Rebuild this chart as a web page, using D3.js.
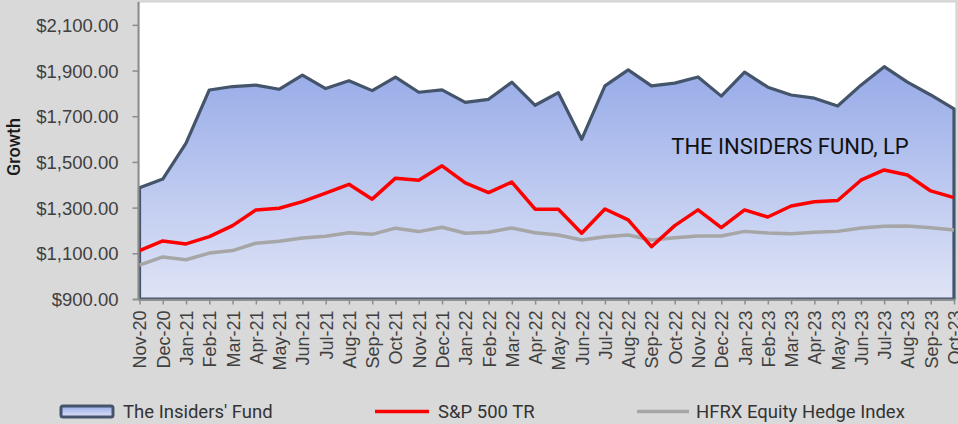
<!DOCTYPE html>
<html>
<head>
<meta charset="utf-8">
<script src="https://cdn.jsdelivr.net/npm/d3@7"></script>
<style>
  html, body { margin: 0; padding: 0; background: #d9d9d9; }
  svg { display: block; font-family: Roboto, "DejaVu Sans", sans-serif; }
</style>
</head>
<body>
<svg id="chart" width="958" height="424"></svg>
<script>
var months = ["Nov-20","Dec-20","Jan-21","Feb-21","Mar-21","Apr-21","May-21","Jun-21","Jul-21","Aug-21","Sep-21","Oct-21",
              "Nov-21","Dec-21","Jan-22","Feb-22","Mar-22","Apr-22","May-22","Jun-22","Jul-22","Aug-22","Sep-22","Oct-22",
              "Nov-22","Dec-22","Jan-23","Feb-23","Mar-23","Apr-23","May-23","Jun-23","Jul-23","Aug-23","Sep-23","Oct-23"];

var fund = [1387,1425,1582,1815,1830,1836,1818,1880,1821,1855,1812,1871,
            1805,1815,1761,1774,1849,1748,1803,1599,1833,1903,1833,1845,
            1872,1788,1893,1827,1793,1779,1745,1836,1917,1849,1793,1732];

var sp500 = [1112,1154,1141,1173,1221,1290,1297,1326,1363,1402,1337,1429,
             1420,1483,1408,1366,1412,1293,1293,1188,1294,1246,1129,1221,
             1290,1212,1290,1259,1307,1326,1331,1420,1465,1443,1373,1344];

var hfrx = [1048,1084,1072,1101,1112,1144,1153,1167,1175,1190,1183,1210,
            1195,1214,1188,1192,1211,1190,1180,1158,1172,1180,1158,1168,
            1176,1176,1196,1189,1186,1192,1196,1211,1218,1220,1212,1202];

var yTicks = [900,1100,1300,1500,1700,1900,2100];
var seriesNames = ["The Insiders' Fund", "S&P 500 TR", "HFRX Equity Hedge Index"];

var svg = d3.select("#chart");
var plotL = 139, plotR = 955, plotT = 2, plotB = 299;

var x = d3.scalePoint().domain(months).range([plotL + 0.5, plotR - 1]);
var y = d3.scaleLinear().domain([900, 2200]).range([plotB, plotT]);

var defs = svg.append("defs");
var grad = defs.append("linearGradient")
    .attr("id", "fundFill")
    .attr("x1", 0).attr("y1", 0).attr("x2", 0).attr("y2", 1);
grad.append("stop").attr("offset", "0%").attr("stop-color", "#97abe8");
grad.append("stop").attr("offset", "100%").attr("stop-color", "#dfe4f6");

// plot background
svg.append("rect")
   .attr("x", plotL).attr("y", plotT)
   .attr("width", plotR - plotL + 1).attr("height", plotB - plotT)
   .attr("fill", "#ffffff")
   .attr("stroke", "#cfcfcf")
   .attr("stroke-width", 1);

// fund area
var area = d3.area()
    .x(function (d, i) { return x(months[i]); })
    .y0(y(900))
    .y1(function (d) { return y(d); });

svg.append("path")
   .datum(fund)
   .attr("d", area)
   .attr("fill", "url(#fundFill)")
   .attr("stroke", "#44546a")
   .attr("stroke-width", 3.2)
   .attr("stroke-linejoin", "round");

var line = d3.line()
    .x(function (d, i) { return x(months[i]); })
    .y(function (d) { return y(d); });

svg.append("path")
   .datum(hfrx)
   .attr("d", line)
   .attr("fill", "none")
   .attr("stroke", "#a6a6a6")
   .attr("stroke-width", 3.5)
   .attr("stroke-linejoin", "round");

svg.append("path")
   .datum(sp500)
   .attr("d", line)
   .attr("fill", "none")
   .attr("stroke", "#ff0000")
   .attr("stroke-width", 3.5)
   .attr("stroke-linejoin", "round");

// y axis
var yAxis = svg.append("g")
   .attr("transform", "translate(" + (plotL - 0.5) + ",0)")
   .call(d3.axisLeft(y).tickValues(yTicks).tickSize(6).tickPadding(14)
           .tickFormat(function (d) { return "$" + d3.format(",.2f")(d); }));
yAxis.select(".domain").attr("stroke", "#8c8c8c").attr("stroke-width", 2)
     .attr("d", "M0," + plotT + "V" + plotB);
yAxis.selectAll(".tick line").attr("stroke", "#8c8c8c").attr("stroke-width", 1.5);
yAxis.selectAll(".tick text")
     .attr("fill", "#404040")
     .style("font-size", "18.5px")
     .attr("dy", "0.36em");

// x axis
var xAxis = svg.append("g")
   .attr("transform", "translate(0," + (plotB + 0.5) + ")")
   .call(d3.axisBottom(x).tickSize(5).tickPadding(6));
xAxis.select(".domain").attr("stroke", "#8c8c8c").attr("stroke-width", 1.5)
     .attr("d", "M" + (plotL - 6) + ",0H" + plotR);
xAxis.selectAll(".tick line").attr("stroke", "#8c8c8c").attr("stroke-width", 1.5);
xAxis.selectAll(".tick text")
     .attr("fill", "#404040")
     .style("font-size", "18px")
     .attr("text-anchor", "end")
     .attr("transform", "rotate(-90)")
     .attr("x", -11)
     .attr("y", 0)
     .attr("dy", "0.36em");

// axis title
svg.append("text")
   .attr("transform", "translate(20,147) rotate(-90)")
   .attr("text-anchor", "middle")
   .attr("fill", "#1a1a1a")
   .style("font-size", "18px")
   .style("font-weight", "500")
   .text("Growth");

// chart annotation
svg.append("text")
   .attr("x", 790).attr("y", 154)
   .attr("text-anchor", "middle")
   .attr("fill", "#111111")
   .style("font-size", "22px")
   .text("THE INSIDERS FUND, LP");

// legend
var legend = svg.append("g").attr("class", "legend");

legend.append("rect")
   .attr("x", 61).attr("y", 406)
   .attr("width", 52).attr("height", 11)
   .attr("rx", 2)
   .attr("fill", "url(#fundFill)")
   .attr("stroke", "#44546a")
   .attr("stroke-width", 3);
legend.append("text")
   .attr("x", 123).attr("y", 418)
   .attr("fill", "#333333").style("font-size", "18.5px")
   .text(seriesNames[0]);

legend.append("line")
   .attr("x1", 375).attr("x2", 429).attr("y1", 411.5).attr("y2", 411.5)
   .attr("stroke", "#ff0000").attr("stroke-width", 3.5);
legend.append("text")
   .attr("x", 438).attr("y", 418)
   .attr("fill", "#333333").style("font-size", "18.5px")
   .text(seriesNames[1]);

legend.append("line")
   .attr("x1", 637).attr("x2", 689).attr("y1", 411.5).attr("y2", 411.5)
   .attr("stroke", "#a6a6a6").attr("stroke-width", 3.5);
legend.append("text")
   .attr("x", 696).attr("y", 418)
   .attr("fill", "#333333").style("font-size", "18.5px")
   .text(seriesNames[2]);
</script>
</body>
</html>
